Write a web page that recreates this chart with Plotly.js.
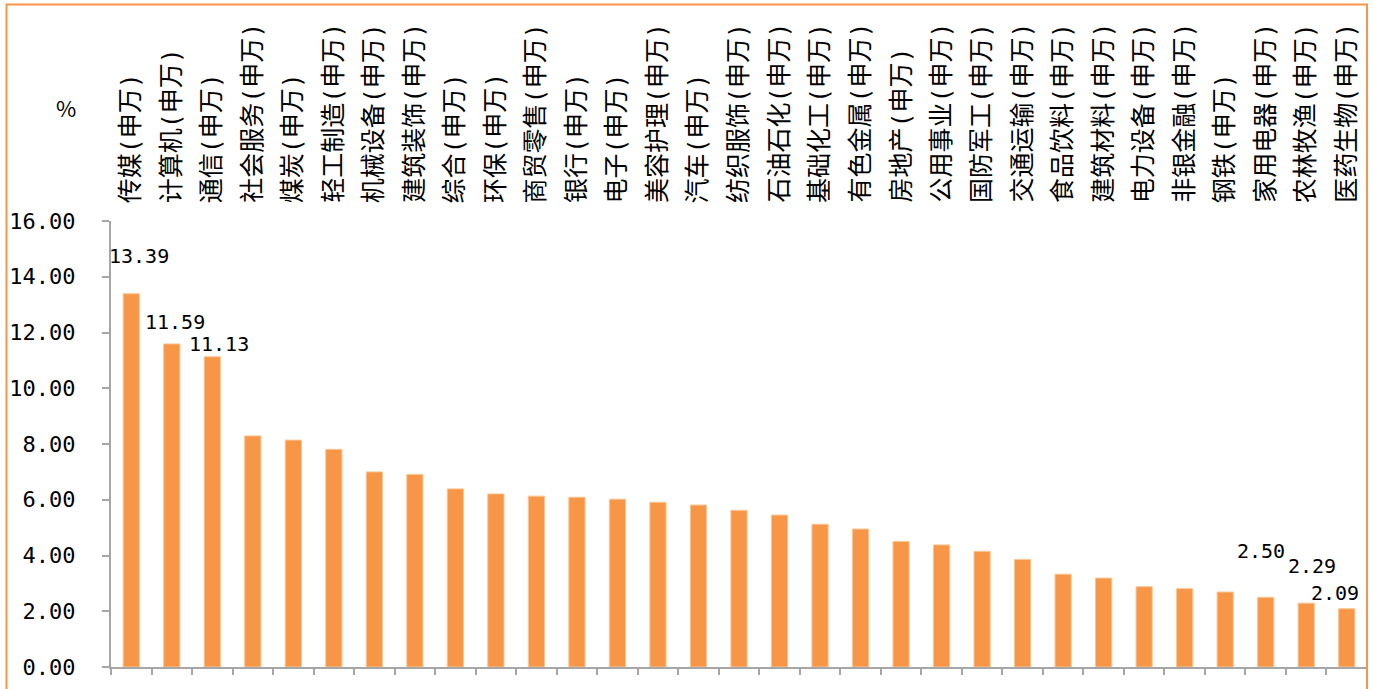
<!DOCTYPE html>
<html>
<head>
<meta charset="utf-8">
<script src="https://cdn.plot.ly/plotly-3.0.1.min.js"></script>
<style>
html,body{margin:0;padding:0;background:#fff;}
#chart{width:1373px;height:689px;}
</style>
</head>
<body>
<div id="chart"></div>
<script>
// ---- data ----
var categories = ["传媒(申万)","计算机(申万)","通信(申万)","社会服务(申万)","煤炭(申万)","轻工制造(申万)","机械设备(申万)","建筑装饰(申万)","综合(申万)","环保(申万)","商贸零售(申万)","银行(申万)","电子(申万)","美容护理(申万)","汽车(申万)","纺织服饰(申万)","石油石化(申万)","基础化工(申万)","有色金属(申万)","房地产(申万)","公用事业(申万)","国防军工(申万)","交通运输(申万)","食品饮料(申万)","建筑材料(申万)","电力设备(申万)","非银金融(申万)","钢铁(申万)","家用电器(申万)","农林牧渔(申万)","医药生物(申万)"];
var values = [13.39,11.59,11.13,8.29,8.14,7.81,7.00,6.91,6.39,6.21,6.13,6.09,6.02,5.91,5.81,5.62,5.45,5.12,4.95,4.50,4.38,4.15,3.86,3.33,3.19,2.88,2.81,2.69,2.50,2.29,2.09];
var labeledIdx = [0,1,2,28,29,30];
var yTickVals = [0,2,4,6,8,10,12,14,16];
var unitLabel = "%";

// ---- styles / positions of value labels (pixel offsets) ----
var labelShift = {0:[8,38],1:[3,22],2:[7,13],28:[-5,46],29:[6,37],30:[-12,16]};

var cjk = '"Noto Sans CJK SC", "Noto Sans", sans-serif';
var mixed = '"DejaVu Sans Mono", "Noto Sans CJK SC", monospace';
var orange = '#F79646';

var trace = {
  type:'bar',
  x: categories,
  y: values,
  width: 0.4,
  marker:{color:orange, line:{color:'#FAC594', width:1}},
  hoverinfo:'x+y'
};

var annotations = [];
categories.forEach(function(c){
  annotations.push({
    x:c, xref:'x', y:1.0359, yref:'paper',
    text:c, showarrow:false, textangle:-90,
    xanchor:'center', yanchor:'bottom',
    font:{family:mixed, size:25, color:'#000'}
  });
});
labeledIdx.forEach(function(i){
  var s = labelShift[i];
  annotations.push({
    x:categories[i], xref:'x', y:values[i], yref:'y',
    text:values[i].toFixed(2), showarrow:false,
    xanchor:'center', yanchor:'middle',
    xshift:s[0], yshift:s[1], borderpad:0,
    font:{family:'"DejaVu Sans Mono", monospace', size:20, color:'#000'}
  });
});
annotations.push({
  x:-0.036, xref:'paper', y:1.255, yref:'paper',
  text:unitLabel, showarrow:false, xanchor:'center', yanchor:'middle',
  font:{family:cjk, size:22, color:'#000'}
});

var layout = {
  width:1373, height:689,
  margin:{l:111, r:6, t:221, b:22, pad:0},
  paper_bgcolor:'#fff', plot_bgcolor:'#fff',
  showlegend:false,
  bargap:0.6,
  xaxis:{
    type:'category', range:[-0.5,30.5], fixedrange:true,
    showticklabels:false, showgrid:false, zeroline:false,
    showline:true, linecolor:'#A6A6A6', linewidth:2,
    ticks:'outside', tickson:'boundaries', ticklen:6, tickwidth:2, tickcolor:'#A6A6A6'
  },
  yaxis:{
    range:[0,16], tickvals:yTickVals, tickformat:'.2f',
    showgrid:false, zeroline:false,
    showline:true, linecolor:'#A6A6A6', linewidth:2,
    ticks:'outside', ticklen:7, tickwidth:2, tickcolor:'#A6A6A6',
    ticklabelstandoff:22,
    tickfont:{family:'"DejaVu Sans Mono", monospace', size:22, color:'#000'}
  },
  annotations:annotations,
  shapes:[{
    type:'rect', xref:'paper', yref:'paper',
    x0:(6.5-111)/1256, x1:1.0, y0:-0.2, y1:(667-4.5)/446,
    line:{color:orange, width:2}, fillcolor:'rgba(0,0,0,0)', layer:'above'
  }]
};

Plotly.newPlot('chart',[trace],layout,{displayModeBar:false, staticPlot:true});
</script>
</body>
</html>
